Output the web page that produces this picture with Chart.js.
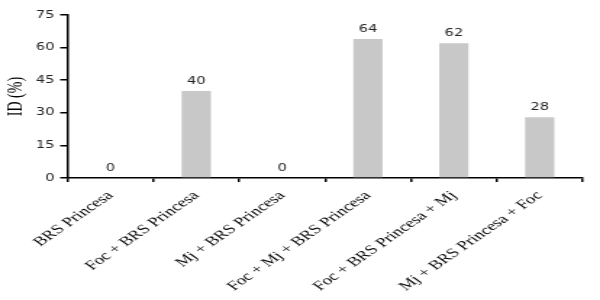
<!DOCTYPE html>
<html>
<head>
<meta charset="utf-8">
<script src="https://cdn.jsdelivr.net/npm/chart.js@4"></script>
<style>
  html, body { margin: 0; padding: 0; background: #fff; overflow: hidden; }
  #wrap { width: 600px; height: 300px; }
  /* the reference picture is stretched sideways, so draw narrow and widen */
  #chart { transform: scaleX(1.4493); transform-origin: 0 0; }
</style>
</head>
<body>
<div id="wrap"><canvas id="chart" width="414" height="300"></canvas></div>
<script>
// data
const categories = ["BRS Princesa", "Foc + BRS Princesa", "Mj + BRS Princesa", "Foc + Mj + BRS Princesa", "Foc + BRS Princesa + Mj", "Mj + BRS Princesa + Foc"];
const idValues = [0, 40, 0, 64, 62, 28];
const yTicks = [0, 15, 30, 45, 60, 75];

const sansFont = "'DejaVu Sans', Verdana, sans-serif";
const serifFont = "'Liberation Serif', 'Times New Roman', serif";

// writes the value above each bar
const valueLabels = {
  id: "valueLabels",
  afterDatasetsDraw(chart) {
    const ctx = chart.ctx;
    const meta = chart.getDatasetMeta(0);
    ctx.save();
    ctx.font = "10px " + sansFont;
    ctx.fillStyle = "#222";
    ctx.textAlign = "center";
    ctx.textBaseline = "bottom";
    meta.data.forEach((bar, i) => {
      ctx.fillText(String(idValues[i]), bar.x, bar.y - 5);
    });
    ctx.restore();
  }
};

new Chart(document.querySelector("#chart"), {
  type: "bar",
  data: {
    labels: categories,
    datasets: [{
      label: "ID (%)",
      data: idValues,
      backgroundColor: "#c8c8c8",
      borderWidth: 0,
      barPercentage: 1,
      categoryPercentage: 0.34
    }]
  },
  options: {
    responsive: false,
    devicePixelRatio: 1,
    animation: false,
    layout: { padding: { top: 15, right: 12, left: 0, bottom: 0 } },
    plugins: {
      legend: { display: false },
      tooltip: { enabled: false }
    },
    scales: {
      x: {
        offset: true,
        border: { display: true, color: "#000", width: 1.5 },
        grid: { offset: true, drawOnChartArea: false, drawTicks: true, tickLength: 4, color: "#000", lineWidth: 1.5 },
        ticks: {
          autoSkip: false,
          minRotation: 45,
          maxRotation: 45,
          padding: 6,
          color: "#000",
          font: { family: serifFont, size: 13 }
        }
      },
      y: {
        min: 0,
        max: 75,
        afterBuildTicks: axis => { axis.ticks = yTicks.map(v => ({ value: v })); },
        afterFit: axis => { axis.width = 46.5; },
        border: { display: true, color: "#000", width: 1.5 },
        grid: { drawOnChartArea: false, drawTicks: true, tickLength: 5, color: "#000", lineWidth: 1.5 },
        ticks: {
          padding: 4,
          color: "#222",
          font: { family: sansFont, size: 10 }
        },
        title: {
          display: true,
          text: "ID (%)",
          color: "#000",
          padding: { top: 3, bottom: 0 },
          font: { family: serifFont, size: 14 }
        }
      }
    }
  },
  plugins: [valueLabels]
});
</script>
</body>
</html>
